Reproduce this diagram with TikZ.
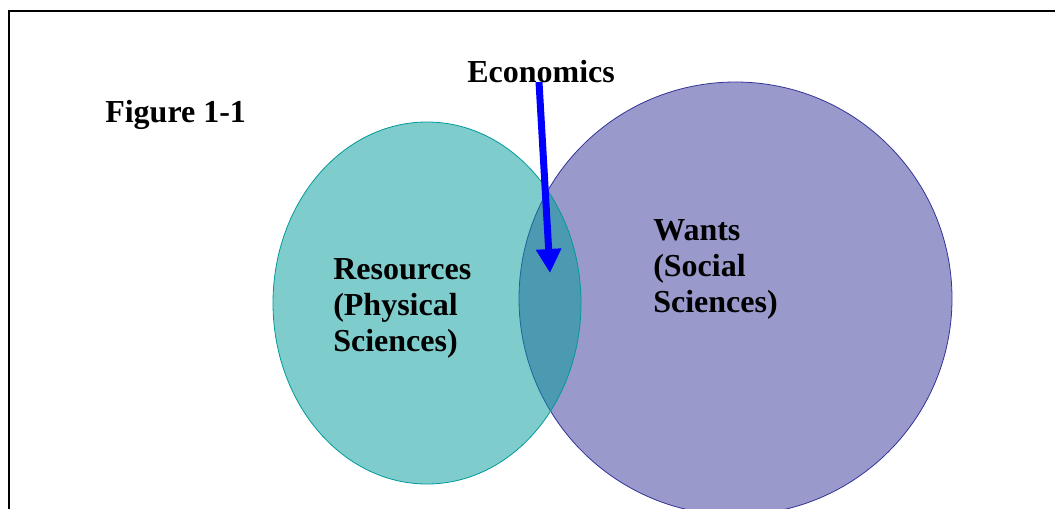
\documentclass[tikz,border=0pt]{standalone}
\usepackage{fontspec}
\setmainfont{Liberation Serif}
\usetikzlibrary{arrows.meta,shapes.geometric}
\definecolor{tealset}{HTML}{009999}
\definecolor{lilacset}{HTML}{9999CC}
\definecolor{lilacline}{HTML}{333399}
\tikzset{
    resset/.style = {ellipse,
                    fill=tealset,
                    fill opacity=0.5,
                    draw=tealset,
                    line width=0.6pt,
                    inner sep=0pt,
                    minimum width=231pt,
                    minimum height=271.5pt},
    wantset/.style = {circle,
                    fill=lilacset,
                    draw=lilacline,
                    line width=0.6pt,
                    inner sep=0pt,
                    minimum size=324.75pt},
    word/.style =   {anchor=base west,
                    align=left,
                    inner sep=0pt,
                    text=black,
                    font=\fontsize{24}{27}\selectfont\bfseries},
    pointer/.style = {draw=blue,
                    line width=5.25pt,
                    -{Triangle[length=18pt,width=18pt]}},
    frame/.style =  {draw=black,
                    line width=1.5pt}}

\begin{document}
\begin{tikzpicture}[x=0.75pt,y=-0.75pt]
                \useasboundingbox (0,0) rectangle (1055,508);
                \draw[frame] (9,520) -- (9,11) -- (1070,11);

                % the two sets, resources drawn over wants
                \node[wantset]  (W) at (735.5,298.5)    {};
                \node[resset]   (R) at (427,303)        {};

                % multi-line labels sit on their last baseline
                \node[word]     (Fig)   at (105,122)    {Figure 1-1};
                \node[word]     (Econ)  at (467,82)     {Economics};
                \node[word]     (Rtxt)  at (333,351)    {Resources\\(Physical\\Sciences)};
                \node[word]     (Wtxt)  at (653,312)    {Wants\\(Social\\Sciences)};

                \coordinate (tail) at (539,82);
                \coordinate (tip)  at (550,273);
                \draw[pointer] (tail) -- (tip);
        \end{tikzpicture}
\end{document}
